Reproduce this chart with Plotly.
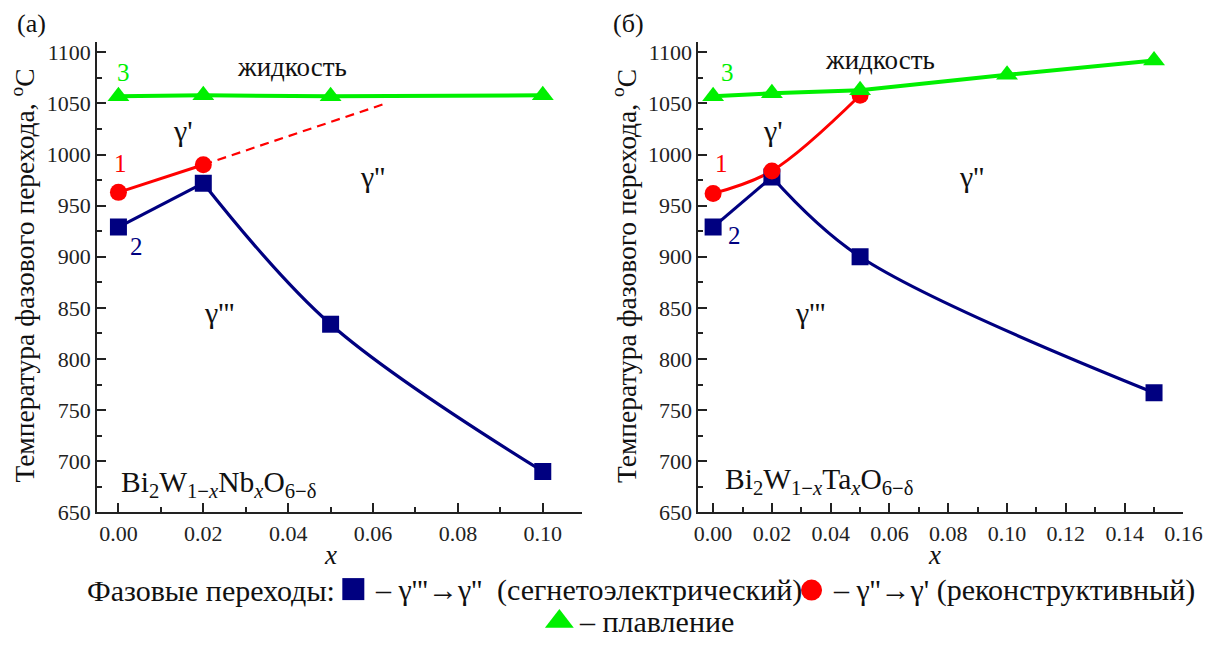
import plotly.graph_objects as go

# ---------------- data ----------------
# panel (а): Bi2W1-xNbxO6-δ
nb_melt_x = [0.0, 0.02, 0.05, 0.10]
nb_melt_y = [1057, 1058, 1057, 1058]
nb_recon_x = [0.0, 0.02]
nb_recon_y = [963, 990]
nb_recon_ext_x = [0.02, 0.063]
nb_recon_ext_y = [990, 1050]
nb_ferro_x = [0.0, 0.02, 0.05, 0.10]
nb_ferro_y = [929, 972, 834, 690]

# panel (б): Bi2W1-xTaxO6-δ
ta_melt_x = [0.0, 0.02, 0.05, 0.10, 0.15]
ta_melt_y = [1057, 1060, 1063, 1078, 1092]
ta_recon_x = [0.0, 0.02, 0.05]
ta_recon_y = [962, 984, 1058]
ta_ferro_x = [0.0, 0.02, 0.05, 0.15]
ta_ferro_y = [929, 978, 900, 767]

y_ticks = [650, 700, 750, 800, 850, 900, 950, 1000, 1050, 1100]
x_ticks_a = [0.0, 0.02, 0.04, 0.06, 0.08, 0.10]
x_ticks_b = [0.0, 0.02, 0.04, 0.06, 0.08, 0.10, 0.12, 0.14, 0.16]

# legend keys (positions in page pixels)
legend_key_x = [356, 823, 566]
legend_key_y = [601, 602, 634]

NAVY = "#000080"
RED = "#ff0000"
GREEN = "#00f000"
FONT = "Liberation Serif, Times New Roman, serif"
W, H = 1225, 652

fig = go.Figure()

def line(x, y, color, width, xa, ya, shape="linear", dash="solid"):
    fig.add_trace(go.Scatter(x=x, y=y, mode="lines", xaxis=xa, yaxis=ya,
                             line=dict(color=color, width=width, shape=shape, dash=dash),
                             showlegend=False, hoverinfo="skip"))

def marks(x, y, color, symbol, size, xa, ya):
    fig.add_trace(go.Scatter(x=x, y=y, mode="markers", xaxis=xa, yaxis=ya,
                             marker=dict(color=color, symbol=symbol, size=size,
                                         opacity=1, line=dict(width=0)),
                             showlegend=False))

# ---- panel а ----
line(nb_melt_x, nb_melt_y, GREEN, 4, "x", "y")
line(nb_recon_ext_x, nb_recon_ext_y, RED, 2.2, "x", "y", dash="9px,6px")
line(nb_recon_x, nb_recon_y, RED, 3, "x", "y")
line(nb_ferro_x[:2], nb_ferro_y[:2], NAVY, 3.2, "x", "y")
line(nb_ferro_x[1:], nb_ferro_y[1:], NAVY, 3.2, "x", "y", shape="spline")
marks(nb_melt_x, nb_melt_y, GREEN, "triangle-up", 19, "x", "y")
marks(nb_recon_x, nb_recon_y, RED, "circle", 17, "x", "y")
marks(nb_ferro_x, nb_ferro_y, NAVY, "square", 17, "x", "y")

# ---- panel б ----
line(ta_ferro_x[:2], ta_ferro_y[:2], NAVY, 3.2, "x2", "y2")
line(ta_ferro_x[1:], ta_ferro_y[1:], NAVY, 3.2, "x2", "y2", shape="spline")
line(ta_recon_x, ta_recon_y, RED, 3, "x2", "y2", shape="spline")
line(ta_melt_x, ta_melt_y, GREEN, 4, "x2", "y2")
marks(ta_ferro_x, ta_ferro_y, NAVY, "square", 17, "x2", "y2")
marks(ta_recon_x, ta_recon_y, RED, "circle", 17, "x2", "y2")
marks(ta_melt_x, ta_melt_y, GREEN, "triangle-up", 19, "x2", "y2")

# ---- bottom legend keys (overlay axis in page pixels) ----
fig.add_trace(go.Scatter(x=legend_key_x, y=legend_key_y, mode="markers", xaxis="x3", yaxis="y3",
                         marker=dict(color=[NAVY, RED, GREEN],
                                     symbol=["square", "circle", "triangle-up"],
                                     size=[22, 21, 25], opacity=1, line=dict(width=0)),
                         showlegend=False, hoverinfo="skip"))

ydom = [1 - 522.5 / H, 1 - 41.5 / H]
common_y = dict(range=[650, 1110.5], tickvals=y_ticks, ticks="inside", ticklen=9,
                tickwidth=1.5, tickcolor="#222", showline=True, linecolor="#222",
                linewidth=2, showgrid=False, zeroline=False, ticksuffix="\u00a0\u2009",
                tickfont=dict(family=FONT, size=22, color="#222"),
                minor=dict(ticks="inside", ticklen=5, tickwidth=1.5, tickcolor="#222",
                           dtick=25, showgrid=False),
                domain=ydom)
common_x = dict(ticks="inside", ticklen=9, tickwidth=1.5, tickcolor="#222",
                showline=True, linecolor="#222", linewidth=2, showgrid=False,
                zeroline=False, tickformat=".2f",
                tickfont=dict(family=FONT, size=22, color="#222"),
                minor=dict(ticks="inside", ticklen=5, tickwidth=1.5, tickcolor="#222",
                           dtick=0.01, showgrid=False),
                ticklabelstandoff=0)

ytitle = "Температура фазового перехода, <sup>o</sup>C"
fig.update_layout(
    width=W, height=H, margin=dict(l=0, r=0, t=0, b=0),
    paper_bgcolor="white", plot_bgcolor="rgba(0,0,0,0)",
    xaxis=dict(common_x, range=[-0.005, 0.1093], tickvals=x_ticks_a,
               domain=[95 / W, 589.3 / W], anchor="y"),
    yaxis=dict(common_y, anchor="x"),
    xaxis2=dict(common_x, range=[-0.005, 0.16], tickvals=x_ticks_b,
                domain=[707.7 / W, 1202 / W], anchor="y2"),
    yaxis2=dict(common_y, anchor="x2"),
    xaxis3=dict(domain=[0, 1], range=[0, W], visible=False, anchor="y3", fixedrange=True),
    yaxis3=dict(domain=[0, 1], range=[H, 0], visible=False, anchor="x3", fixedrange=True),
)

ann = []
def txt(x, y, text, size=22, color="#111", xanchor="center", yanchor="middle", angle=0):
    ann.append(dict(x=x / W, y=1 - y / H, xref="paper", yref="paper", text=text, showarrow=False,
                    font=dict(family=FONT, size=size, color=color),
                    xanchor=xanchor, yanchor=yanchor, textangle=angle))

# panel labels
txt(11, 23, "(а)", 26, xanchor="left")
txt(619, 23, "(б)", 26, xanchor="left")
# y-axis titles
txt(20, 281, ytitle, 27.5, angle=-90)
txt(633, 281, ytitle, 27.5, angle=-90)
# x-axis titles
txt(333, 566, "<i>x</i>", 27)
txt(948, 566, "<i>x</i>", 27)

# panel а in-plot text
txt(294, 67, "жидкость", 27)
txt(122, 73, "3", 25, GREEN)
txt(182, 132, "γ'", 30)
txt(119, 166, "1", 25, RED)
txt(135, 251, "2", 25, NAVY)
txt(376, 179, "γ''", 30)
txt(219, 318, "γ'''", 30)
txt(117, 494, "Bi<sub>2</sub>W<sub>1−<i>x</i></sub>Nb<sub><i>x</i></sub>O<sub>6−δ</sub>",
    29.5, "#111", xanchor="left")

# panel б in-plot text
txt(893, 60, "жидкость", 27)
txt(737, 73, "3", 25, GREEN)
txt(784, 132, "γ'", 30)
txt(731, 166, "1", 25, RED)
txt(744, 240, "2", 25, NAVY)
txt(986, 179, "γ''", 30)
txt(821, 318, "γ'''", 30)
txt(733, 491, "Bi<sub>2</sub>W<sub>1−<i>x</i></sub>Ta<sub><i>x</i></sub>O<sub>6−δ</sub>",
    29.5, "#111", xanchor="left")

# bottom legend texts
txt(339, 602, "Фазовые переходы:", 30, xanchor="right")
txt(376, 602, "– γ'''→γ''  (сегнетоэлектрический)", 30, xanchor="left")
txt(843, 602, "– γ''→γ' (реконструктивный)", 30, xanchor="left")
txt(584, 634, "– плавление", 30, xanchor="left")

fig.update_layout(annotations=ann)
fig.write_html("out.html")
